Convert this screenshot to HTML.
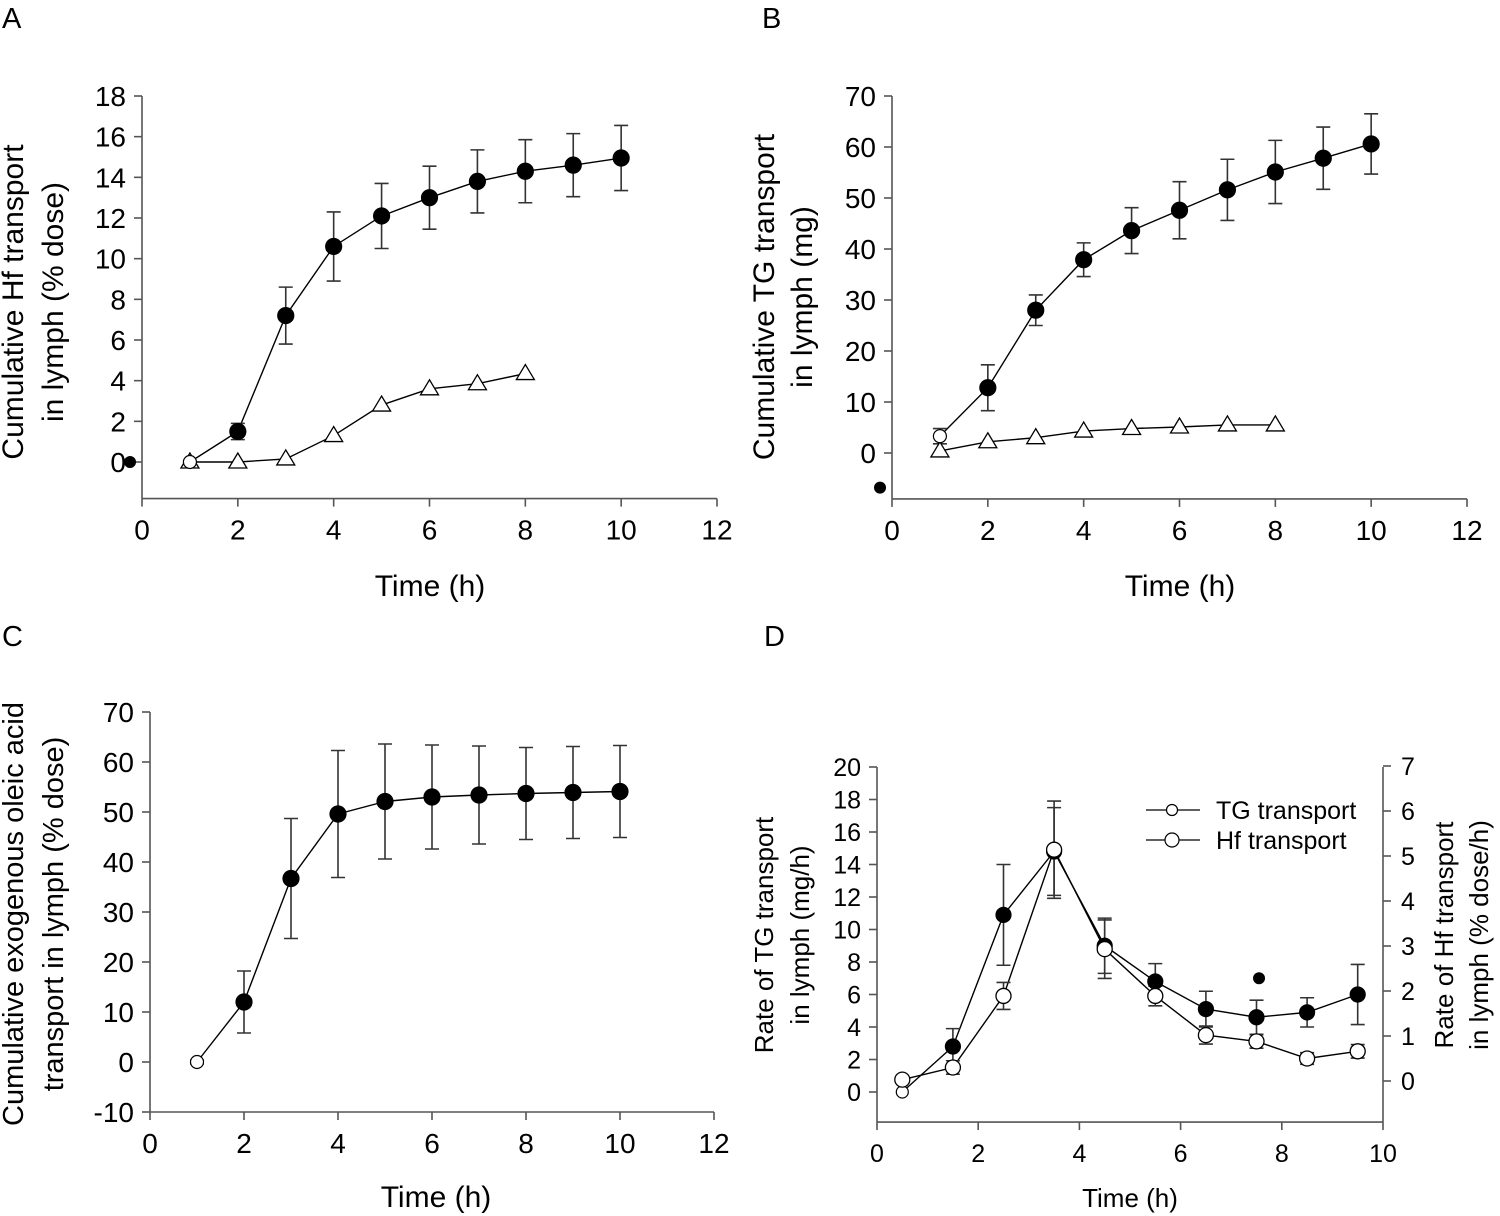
<!DOCTYPE html>
<html><head><meta charset="utf-8">
<style>
html,body{margin:0;padding:0;background:#fff;}
svg{display:block;font-family:"Liberation Sans",Arial,sans-serif;}
</style></head>
<body>
<svg id="fig" width="1500" height="1216" viewBox="0 0 1500 1216" xmlns="http://www.w3.org/2000/svg">
<text x="2" y="28" font-size="29">A</text>
<text x="762" y="28" font-size="29">B</text>
<text x="2" y="646" font-size="29">C</text>
<text x="764" y="646" font-size="29">D</text>
</svg>
<script>
// ---------- Panel A data ----------
const aTime = [1,2,3,4,5,6,7,8,9,10];
const aHf = [0,1.5,7.2,10.6,12.1,13.0,13.8,14.3,14.6,14.95];
const aHfErr = [0,0.4,1.4,1.7,1.6,1.55,1.55,1.55,1.55,1.6];
const aTriTime = [1,2,3,4,5,6,7,8];
const aTri = [0,0,0.15,1.3,2.8,3.6,3.85,4.35];
const aOutlier = [-0.25,0];
const aYTicks = [0,2,4,6,8,10,12,14,16,18];
const aXTicks = [0,2,4,6,8,10,12];
// ---------- Panel B data ----------
const bTime = [1,2,3,4,5,6,7,8,9,10];
const bTG = [3.3,12.8,28,37.9,43.6,47.6,51.6,55.1,57.8,60.6];
const bTGErr = [1.5,4.5,3,3.3,4.5,5.6,6,6.2,6.1,5.9];
const bTriTime = [1,2,3,4,5,6,7,8];
const bTri = [0.4,2.2,3,4.3,4.8,5.1,5.5,5.5];
const bOutlier = [-0.25,-6.8];
const bYTicks = [0,10,20,30,40,50,60,70];
const bXTicks = [0,2,4,6,8,10,12];
// ---------- Panel C data ----------
const cTime = [1,2,3,4,5,6,7,8,9,10];
const cOA = [0,12,36.7,49.6,52.1,53,53.4,53.7,53.9,54.1];
const cOAErr = [0.4,6.2,12,12.7,11.5,10.4,9.8,9.2,9.2,9.2];
const cYTicks = [-10,0,10,20,30,40,50,60,70];
const cXTicks = [0,2,4,6,8,10,12];
// ---------- Panel D data ----------
const dTime = [0.5,1.5,2.5,3.5,4.5,5.5,6.5,7.5,8.5,9.5];
const dTG = [0,2.8,10.9,14.8,9.0,6.8,5.1,4.6,4.9,6.0];
const dTGErr = [0,1.1,3.1,2.7,1.7,1.1,1.1,1.05,0.9,1.85];
const dHf = [0.03,0.30,1.89,5.14,2.93,1.89,1.02,0.88,0.50,0.66];
const dHfErr = [0,0.15,0.3,1.08,0.65,0.22,0.2,0.15,0.13,0.15];
const dOutlier = [7.55,7.0];
const dYTicksL = [0,2,4,6,8,10,12,14,16,18,20];
const dYTicksR = [0,1,2,3,4,5,6,7];
const dXTicks = [0,2,4,6,8,10];

const NS = "http://www.w3.org/2000/svg";
const svg = document.getElementById('fig');
function mk(tag, attrs, parent){
  const e = document.createElementNS(NS, tag);
  for (const k in attrs) e.setAttribute(k, attrs[k]);
  (parent||svg).appendChild(e);
  return e;
}
function lin(d0,d1,r0,r1){ return v => r0 + (v-d0)*(r1-r0)/(d1-d0); }

function axes(g, xs, ys, xTicks, yTicks, xMin, xMax, yMin, yMax, fs){
  const axis = mk('g', {stroke:'#555','stroke-width':1.6}, g);
  
  
  mk('line',{x1:xs(xMin),x2:xs(xMax),y1:ys(yMin),y2:ys(yMin)},axis);
  mk('line',{x1:xs(xMin),x2:xs(xMin),y1:ys(yMin),y2:ys(yMax)},axis);
  xTicks.forEach(t=>{
    mk('line',{x1:xs(t),x2:xs(t),y1:ys(yMin),y2:ys(yMin)+8},axis);
    const tx = mk('text',{x:xs(t),y:ys(yMin)+31+fs*0.36,'font-size':fs,'text-anchor':'middle',fill:'#000'},g);
    
    
    tx.textContent = t;
  });
  yTicks.forEach(t=>{
    mk('line',{x1:xs(xMin)-8,x2:xs(xMin),y1:ys(t),y2:ys(t)},axis);
    const tx = mk('text',{x:xs(xMin)-16,y:ys(t)+fs*0.36,'font-size':fs,'text-anchor':'end',fill:'#000'},g);
    
    
    tx.textContent = t;
  });
}
function series(g, xs, ys, xv, yv, name){
  const p = mk('polyline',{points:xv.map((x,i)=>xs(x)+','+ys(yv[i])).join(' '),fill:'none',stroke:'#000','stroke-width':1.4},g);
  
  
}
function errs(g, xs, ys, xv, yv, ev){
  xv.forEach((x,i)=>{
    if(!ev[i]) return;
    const X=xs(x), t=ys(yv[i]+ev[i]), b=ys(yv[i]-ev[i]);
    const e = mk('path',{d:`M${X},${t}V${b}M${X-7},${t}H${X+7}M${X-7},${b}H${X+7}`,stroke:'#333','stroke-width':1.6,fill:'none'},g);
    
    
  });
}
function dots(g, xs, ys, xv, yv, name, firstOpen, r){
  xv.forEach((x,i)=>{
    const open = firstOpen && i===0;
    const c = mk('circle',{cx:xs(x),cy:ys(yv[i]),r:open? r-1.5 : r,fill:open?'#fff':'#000',stroke:'#000','stroke-width':1.2},g);
    
    
  });
}
function opendots(g, xs, ys, xv, yv, name, r){
  xv.forEach((x,i)=>{
    const c = mk('circle',{cx:xs(x),cy:ys(yv[i]),r:r,fill:'#fff',stroke:'#000','stroke-width':1.3},g);
    
    
  });
}
function tris(g, xs, ys, xv, yv, name){
  xv.forEach((x,i)=>{
    const X=xs(x), Y=ys(yv[i]);
    const t = mk('polygon',{points:`${X},${Y-9} ${X-9},${Y+6} ${X+9},${Y+6}`,fill:'#fff',stroke:'#000','stroke-width':1.3},g);
    
    
  });
}
function outlier(g, xs, ys, pt){
  const c = mk('circle',{cx:xs(pt[0]),cy:ys(pt[1]),r:6,fill:'#000'},g);
  
  
}
function title(g, lines, cx, cy, fs, rot){
  lines.forEach((ln,i)=>{
    const t = mk('text',{x:0,y:0,'font-size':fs,'text-anchor':'middle',transform:`translate(${ln[1]},${cy}) rotate(${rot})`,fill:'#000'},g);
    
    
    t.textContent = ln[0];
  });
}
function xtitle(g, x, y, fs){
  const t = mk('text',{x:x,y:y,'font-size':fs,'text-anchor':'middle',fill:'#000'},g);
  
  
  t.textContent = 'Time (h)';
}

// ---------- Panel A ----------
{
  const g = mk('g',{});
  
  
  const xs = lin(0,12,142,717), ys = lin(0,18,462,96);
  axes(g, xs, ys, aXTicks, aYTicks, 0, 12, -1.8, 18, 28);
  series(g, xs, ys, aTriTime, aTri, 'hf-control');
  series(g, xs, ys, aTime, aHf, 'hf-cumulative');
  errs(g, xs, ys, aTime, aHf, aHfErr);
  tris(g, xs, ys, aTriTime, aTri, 'hf-control');
  dots(g, xs, ys, aTime, aHf, 'hf-cumulative', true, 8);
  outlier(g, xs, ys, aOutlier);
  title(g, [['Cumulative Hf transport',23],['in lymph (% dose)',63]], 0, 302, 30, -90);
  xtitle(g, 430, 596, 30);
}
// ---------- Panel B ----------
{
  const g = mk('g',{});
  
  
  const xs = lin(0,12,892,1467), ys = lin(0,70,453,96);
  axes(g, xs, ys, bXTicks, bYTicks, 0, 12, -9, 70, 28);
  series(g, xs, ys, bTriTime, bTri, 'tg-control');
  series(g, xs, ys, bTime, bTG, 'tg-cumulative');
  errs(g, xs, ys, bTime, bTG, bTGErr);
  tris(g, xs, ys, bTriTime, bTri, 'tg-control');
  dots(g, xs, ys, bTime, bTG, 'tg-cumulative', true, 8);
  outlier(g, xs, ys, bOutlier);
  title(g, [['Cumulative TG transport',774],['in lymph (mg)',812]], 0, 297, 30, -90);
  xtitle(g, 1180, 596, 30);
}
// ---------- Panel C ----------
{
  const g = mk('g',{});
  
  
  const xs = lin(0,12,150,714), ys = lin(0,70,1062,712);
  axes(g, xs, ys, cXTicks, cYTicks, 0, 12, -10, 70, 28);
  series(g, xs, ys, cTime, cOA, 'oleic-acid');
  errs(g, xs, ys, cTime, cOA, cOAErr);
  dots(g, xs, ys, cTime, cOA, 'oleic-acid', true, 8);
  title(g, [['Cumulative exogenous oleic acid',23],['transport in lymph (% dose)',63]], 0, 914, 29, -90);
  xtitle(g, 436, 1207, 30);
}
// ---------- Panel D ----------
{
  const g = mk('g',{});
  
  
  const xs = lin(0,10,877,1383), ys = lin(0,20,1092,767), yr = lin(0,7,1081,766);
  axes(g, xs, ys, dXTicks, dYTicksL, 0, 10, -1.85, 20, 25);
  const ax = mk('g',{stroke:'#555','stroke-width':1.6},g);
  
  
  mk('line',{x1:1383,x2:1383,y1:ys(-1.85),y2:767},ax);
  dYTicksR.forEach(t=>{
    mk('line',{x1:1383,x2:1391,y1:yr(t),y2:yr(t)},ax);
    const tx = mk('text',{x:1408,y:yr(t)+9,'font-size':25,'text-anchor':'middle',fill:'#000'},g);
    
    
    tx.textContent = t;
  });
  series(g, xs, ys, dTime, dTG, 'tg-rate');
  series(g, xs, yr, dTime, dHf, 'hf-rate');
  errs(g, xs, ys, dTime, dTG, dTGErr);
  errs(g, xs, yr, dTime, dHf, dHfErr);
  dots(g, xs, ys, dTime, dTG, 'tg-rate', true, 7.5);
  opendots(g, xs, yr, dTime, dHf, 'hf-rate', 7.5);
  outlier(g, xs, ys, dOutlier);
  title(g, [['Rate of TG transport',773],['in lymph (mg/h)',809]], 0, 935, 26, -90);
  title(g, [['Rate of Hf transport',1453],['in lymph (% dose/h)',1488]], 0, 935, 26, -90);
  xtitle(g, 1130, 1207, 26);
  // legend
  const lg = mk('g',{},g);
  
  
  const e1 = mk('g',{},lg);
  
  
  mk('line',{x1:1146,x2:1200,y1:810,y2:810,stroke:'#000','stroke-width':1.2},e1);
  mk('circle',{cx:1172,cy:810,r:5.5,fill:'#fff',stroke:'#000','stroke-width':1.2},e1);
  const t1 = mk('text',{x:1216,y:819,'font-size':25},e1);
  t1.textContent = 'TG transport';
  const e2 = mk('g',{},lg);
  
  
  mk('line',{x1:1146,x2:1200,y1:840,y2:840,stroke:'#000','stroke-width':1.2},e2);
  mk('circle',{cx:1172,cy:840,r:7,fill:'#fff',stroke:'#000','stroke-width':1.2},e2);
  const t2 = mk('text',{x:1216,y:849,'font-size':25},e2);
  t2.textContent = 'Hf transport';
}
</script>
</body></html>
